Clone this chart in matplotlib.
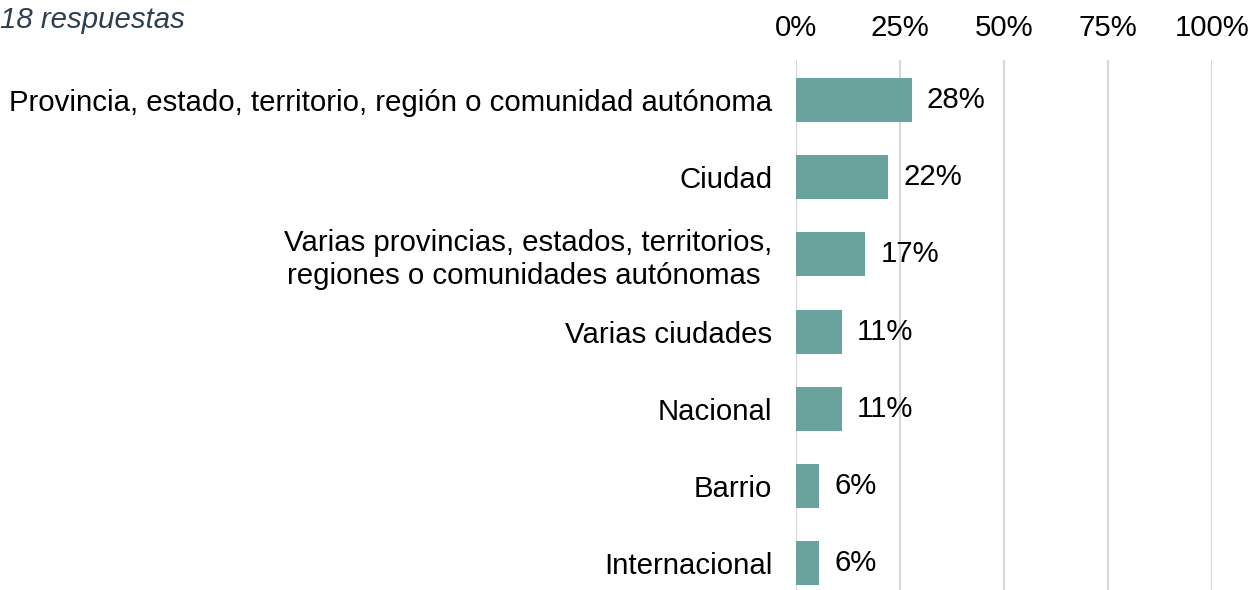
import matplotlib
matplotlib.use('Agg')
import matplotlib.pyplot as plt

plt.rcParams['font.family'] = ['Liberation Sans', 'DejaVu Sans']

categorias = ['Provincia, estado, territorio, región o comunidad autónoma',
              'Ciudad',
              'Varias provincias, estados, territorios,\nregiones o comunidades autónomas ',
              'Varias ciudades',
              'Nacional',
              'Barrio',
              'Internacional']
valores = [27.8, 22.2, 16.7, 11.1, 11.1, 5.6, 5.6]
etiquetas = ['28%', '22%', '17%', '11%', '11%', '6%', '6%']
ticks = [0, 25, 50, 75, 100]
tick_labels = ['0%', '25%', '50%', '75%', '100%']

fs = 21.2

fig = plt.figure(figsize=(12.52, 5.9), dpi=100)
ax = fig.add_axes([796 / 1252, 0, 416 / 1252, 1 - 60 / 590])

y = list(range(len(categorias)))
ax.barh(y, valores, height=0.57, color='#6aa39d', zorder=3)

for yi, v, lab in zip(y, valores, etiquetas):
    ax.text(v + 3.6, yi, lab, va='center', ha='left', fontsize=fs, color='black', zorder=4)

ax.set_xlim(0, 100)
ax.set_ylim(6.35, -0.52)
ax.set_yticks(y)
ax.set_yticklabels(categorias, fontsize=fs, multialignment='center')
ax.set_xticks(ticks)
ax.set_xticklabels(tick_labels, fontsize=fs)
ax.xaxis.tick_top()
ax.tick_params(axis='x', length=0, pad=13)
ax.tick_params(axis='y', length=0, pad=17)
ax.grid(axis='x', color='#d9d9d9', linewidth=1.5, zorder=0)
for s in ax.spines.values():
    s.set_visible(False)

fig.text(0.0, 0.966, '18 respuestas', fontsize=fs, style='italic',
         color='#2e3f4f', ha='left', va='center')

fig.savefig('out.png', dpi=100)
